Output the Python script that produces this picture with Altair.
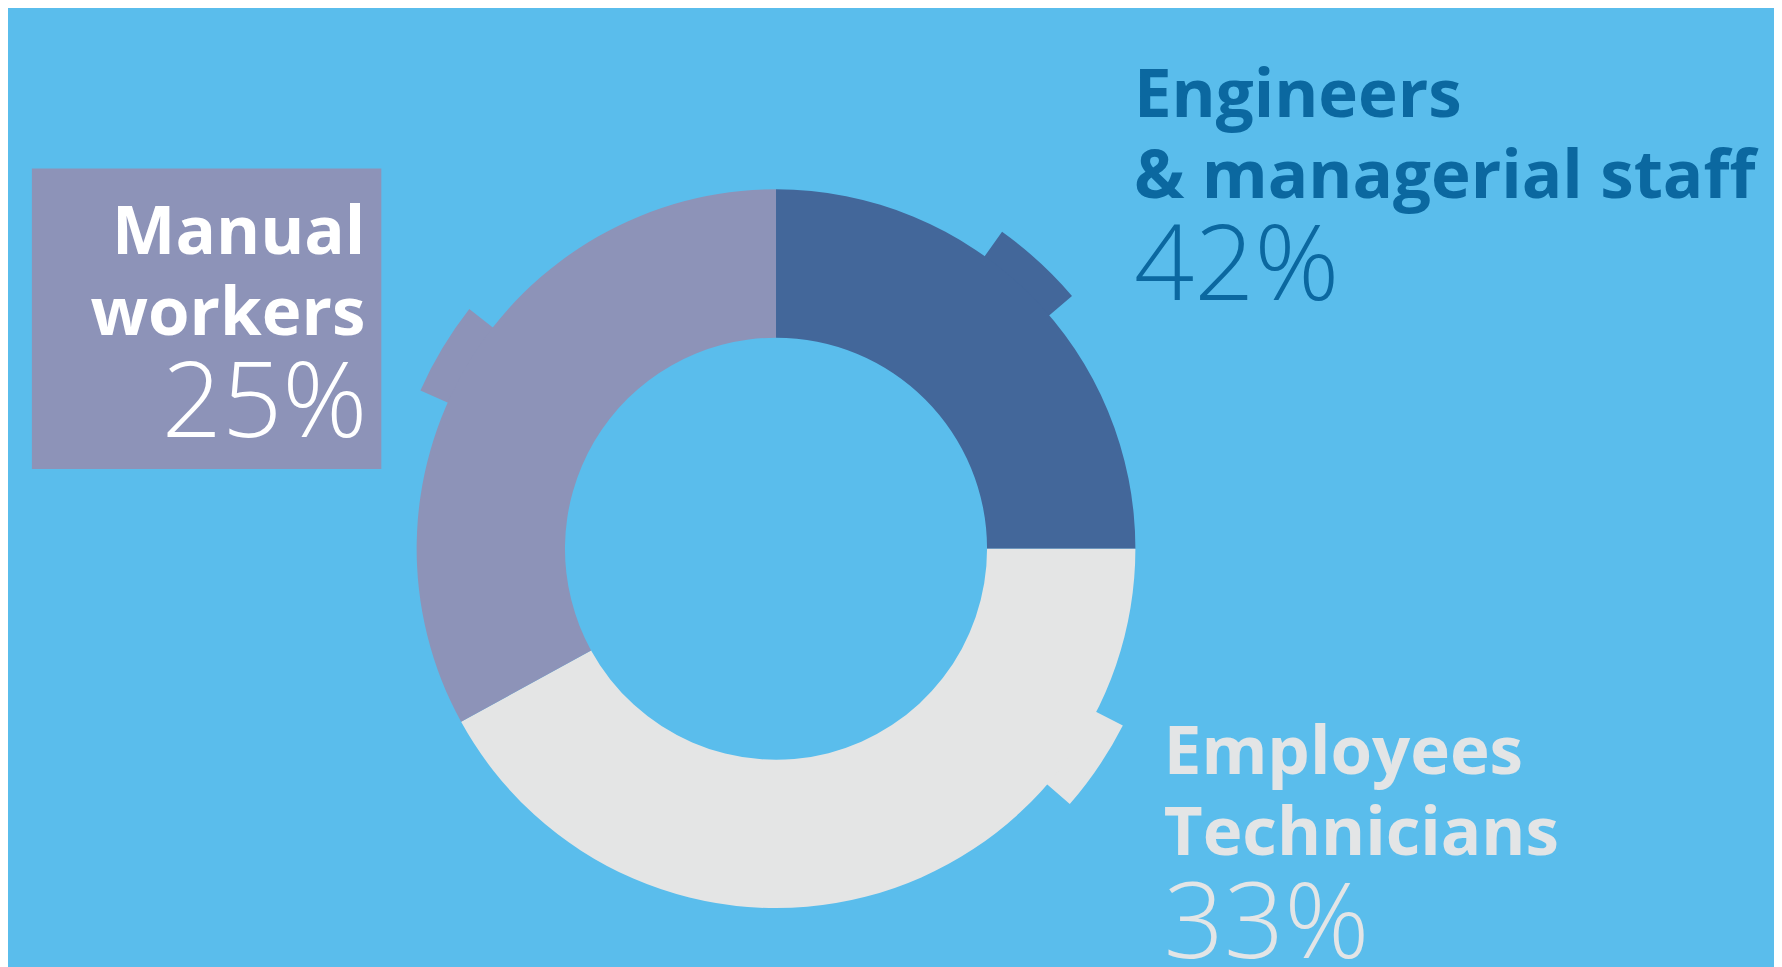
import altair as alt
import pandas as pd

# ---- data ----
categories = ["Engineers & managerial staff", "Employees Technicians", "Manual workers"]
label_lines = ["Engineers\n& managerial staff", "Employees\nTechnicians", "Manual\nworkers"]
percent_labels = [42, 33, 25]
# share of the ring each coloured segment covers as drawn (percent of the circle)
arc_share = [25, 42, 33]
seg_colors = ["#43679a", "#e4e5e5", "#8d93b8"]
# small protruding tabs on each segment (degrees, clockwise from 12 o'clock)
tab_start = [35.5, 117, 294]
tab_end = [49.5, 131, 308]

BG = "#5abdec"
W, H = 1774, 959
CX, CY = 771.5, 541

starts, ends, acc = [], [], 0.0
for s in arc_share:
    starts.append(acc * 3.6)
    acc += s
    ends.append(acc * 3.6)

ring_df = pd.DataFrame({"cat": categories, "start": starts, "end": ends})
tab_df = pd.DataFrame({"cat": categories, "start": tab_start, "end": tab_end})

theta_scale = alt.Scale(domain=[0, 360], range=[0, 6.283185307179586])
color = alt.Color("cat:N", scale=alt.Scale(domain=categories, range=seg_colors), legend=None)

tabs = alt.Chart(tab_df).mark_arc(innerRadius=300, outerRadius=391).encode(
    theta=alt.Theta("start:Q", scale=theta_scale, stack=False),
    theta2="end:Q",
    color=color,
    x=alt.value(CX), y=alt.value(CY),
)
ring = alt.Chart(ring_df).mark_arc(innerRadius=212, outerRadius=361).encode(
    theta=alt.Theta("start:Q", scale=theta_scale, stack=False),
    theta2="end:Q",
    color=color,
    x=alt.value(CX), y=alt.value(CY),
)

box = alt.Chart(pd.DataFrame({"cat": [categories[2]]})).mark_rect(color=seg_colors[2]).encode(
    x=alt.value(24), x2=alt.value(375), y=alt.value(159), y2=alt.value(461)
)

lab_df = pd.DataFrame({"cat": categories, "lines": label_lines,
                       "pct": [f"{p}%" for p in percent_labels]})

BOLD = dict(font="Open Sans", fontWeight="bold", fontSize=67.5, lineBreak="\n", lineHeight=81.5, baseline="alphabetic")
LIGHT = dict(font="Open Sans", fontWeight=300, fontSize=106, baseline="alphabetic")

def label(i, x, y, y_pct, align, col, dx_pct=0):
    d = lab_df.iloc[[i]]
    t1 = alt.Chart(d).mark_text(align=align, color=col, **BOLD).encode(
        text="lines:N", x=alt.value(x), y=alt.value(y))
    t2 = alt.Chart(d).mark_text(align=align, color=col, **LIGHT).encode(
        text="pct:N", x=alt.value(x + dx_pct), y=alt.value(y_pct))
    return [t1, t2]

layers = [box, tabs, ring]
layers += label(0, 1131, 107, 291, "left", "#0b68a0", 0)
layers += label(1, 1161, 767, 952, "left", "#e3e5e6", 0)
layers += label(2, 359, 245, 429, "right", "#ffffff", 2)

chart = alt.layer(*layers).properties(
    width=W, height=H, background=BG, padding=0,
    autosize=alt.AutoSizeParams(type="none"),
).configure_view(stroke=None)

chart.save("out.html", embed_options={"renderer": "svg", "actions": False})
